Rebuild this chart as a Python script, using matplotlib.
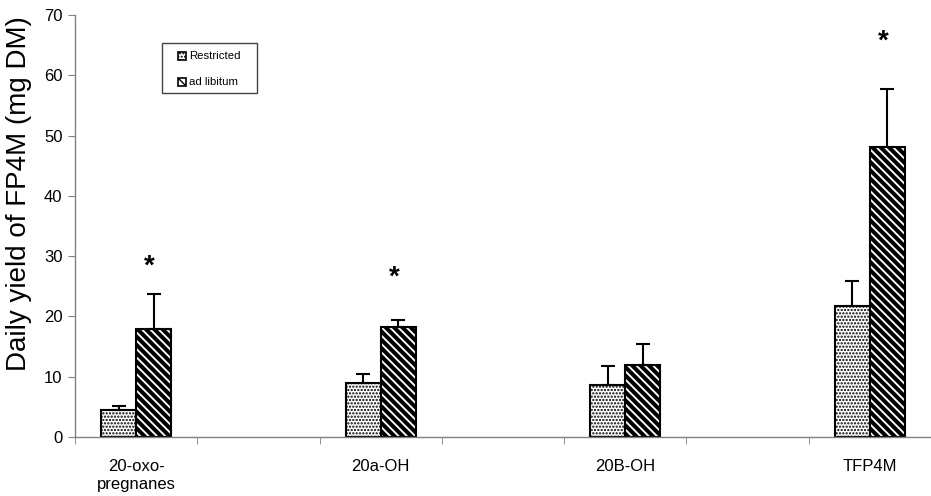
import matplotlib
matplotlib.use("Agg")
import matplotlib.pyplot as plt
import matplotlib.patches as mpatches
import numpy as np

plt.rcParams['font.family'] = ['Liberation Sans', 'DejaVu Sans']

categories = ["20-oxo-\npregnanes", "", "20a-OH", "", "20B-OH", "", "TFP4M"]
# values per category (None = empty spacer category)
restricted = [4.4, None, 9.0, None, 8.6, None, 21.8]
restricted_err = [0.8, None, 1.4, None, 3.1, None, 4.1]
adlib = [17.9, None, 18.3, None, 12.0, None, 48.1]
adlib_err = [5.9, None, 1.1, None, 3.5, None, 9.6]
star_y = [28.9, None, 27.2, None, None, None, 66.2]
legend_labels = ['Restricted', 'ad libitum']

fig = plt.figure(figsize=(9.31, 4.96), dpi=100)
ax = fig.add_axes([75/931, 1-437/496, 856/931, (437-15)/496])

x = np.arange(len(categories))
idx = [i for i, v in enumerate(restricted) if v is not None]
w = 0.285
off = 0.143

r_vals = [restricted[i] for i in idx]
r_err = [restricted_err[i] for i in idx]
a_vals = [adlib[i] for i in idx]
a_err = [adlib_err[i] for i in idx]
xi = x[idx]

HATCH_R = '.....'
HATCH_A = '\\\\\\\\'

bars_r = ax.bar(xi - off, r_vals, w, color='white', edgecolor='black', linewidth=1.5,
                hatch=HATCH_R, zorder=2)
bars_a = ax.bar(xi + off, a_vals, w, color='white', edgecolor='black', linewidth=1.5,
                hatch=HATCH_A, zorder=2)
for b in bars_r:
    if hasattr(b, 'set_hatch_linewidth'):
        b.set_hatch_linewidth(1.1)
for b in bars_a:
    if hasattr(b, 'set_hatch_linewidth'):
        b.set_hatch_linewidth(2.9)

ax.errorbar(xi - off, r_vals, yerr=[np.zeros(len(r_err)), r_err], fmt='none',
            ecolor='black', elinewidth=1.5, capsize=5, capthick=1.5, zorder=3)
ax.errorbar(xi + off, a_vals, yerr=[np.zeros(len(a_err)), a_err], fmt='none',
            ecolor='black', elinewidth=1.5, capsize=5, capthick=1.5, zorder=3)

fs_star = 20
for i, s in enumerate(star_y):
    if s is not None:
        ax.annotate('*', xy=(x[i] + off, s), xytext=(-3, -0.40*fs_star), textcoords='offset points',
                    ha='center', va='baseline', fontsize=fs_star, fontweight='bold')

ax.set_xlim(-0.5, len(categories) - 0.5)
ax.set_ylim(0, 70)
ax.set_yticks(np.arange(0, 71, 10))
ax.tick_params(axis='y', labelsize=12, length=5, color='#808080', direction='out', pad=4)

ax.set_xticks(x)
ax.set_xticklabels(categories, fontsize=12, linespacing=1.25)
ax.tick_params(axis='x', which='major', length=0, pad=16)
ax.set_xticks(np.arange(-0.5, len(categories) + 0.5, 1), minor=True)
ax.tick_params(axis='x', which='minor', length=5, color='#808080', direction='out')

for sp in ['top', 'right']:
    ax.spines[sp].set_visible(False)
for sp in ['left', 'bottom']:
    ax.spines[sp].set_color('#808080')
    ax.spines[sp].set_linewidth(1.0)

fig.text(19/931, 1-194/496, "Daily yield of FP4M (mg DM)", rotation=90, fontsize=20,
         ha='center', va='center')

# legend drawn manually in figure pixel coordinates
W, H = 931, 496
def fx(p): return p / W
def fy(p): return 1 - p / H
frame = mpatches.Rectangle((fx(162), fy(93)), fx(257) - fx(162), fy(43) - fy(93),
                           transform=fig.transFigure, facecolor='white', edgecolor='#444444',
                           linewidth=1.0, zorder=5)
fig.add_artist(frame)
for lab, hatch, yc in zip(legend_labels, [HATCH_R, HATCH_A], [56, 82]):
    p = mpatches.Rectangle((fx(178), fy(yc + 4)), fx(8), 8 / H, transform=fig.transFigure,
                           facecolor='white', edgecolor='black', hatch=hatch, linewidth=1.2,
                           zorder=6)
    if hasattr(p, 'set_hatch_linewidth'):
        p.set_hatch_linewidth(1.0)
    fig.add_artist(p)
    fig.text(fx(189), fy(yc), lab, fontsize=8.2, ha='left', va='center', zorder=7)

fig.savefig('out.png', dpi=100)
